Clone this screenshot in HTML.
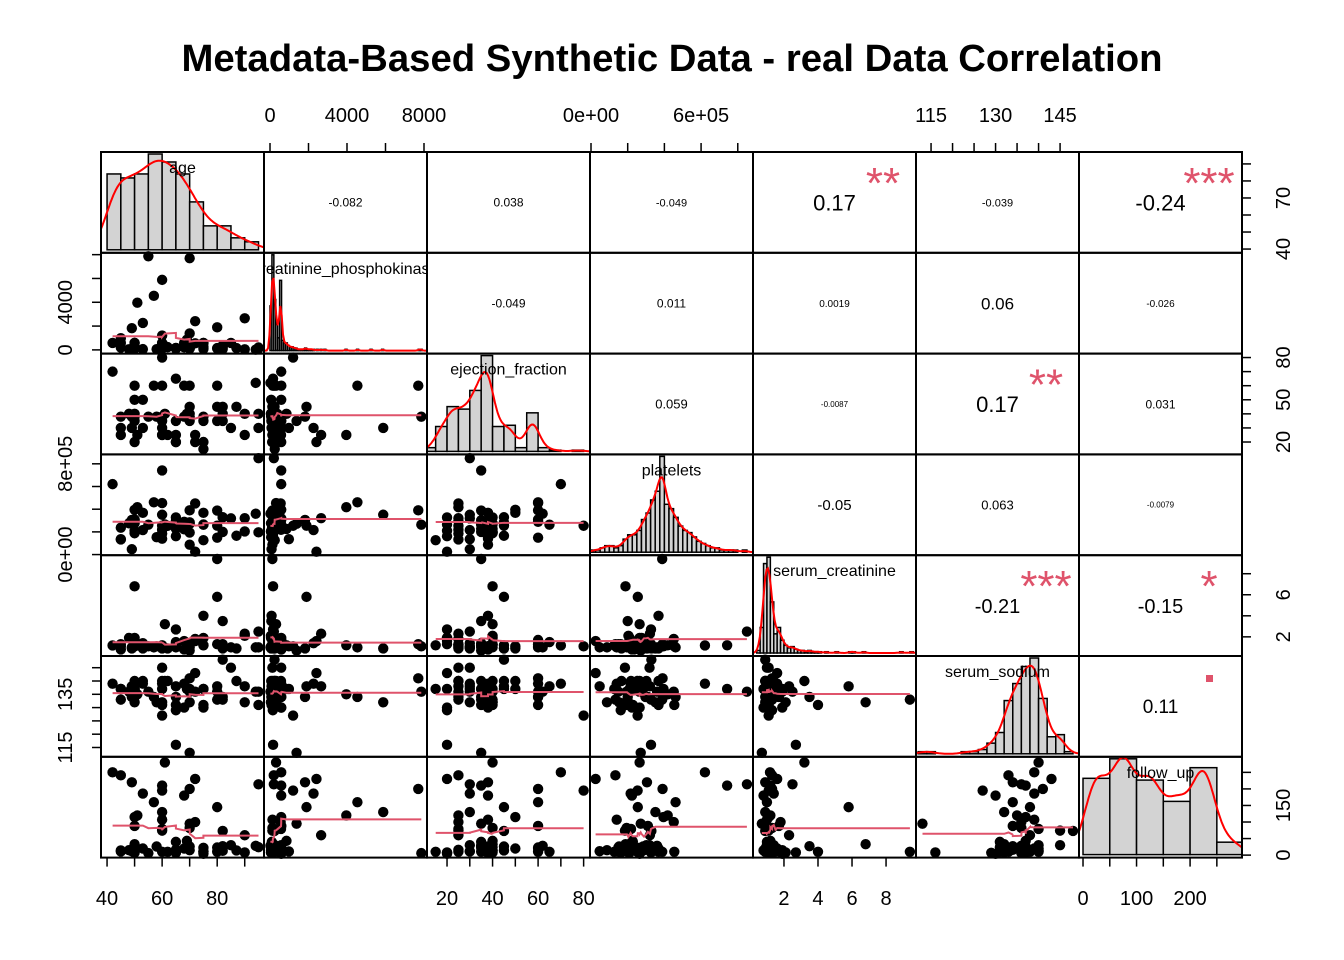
<!DOCTYPE html>
<html><head><meta charset="utf-8"><style>
html,body{margin:0;padding:0;background:#fff}
svg{display:block;font-family:"Liberation Sans",Arial,sans-serif}
</style></head><body>
<svg id="chart" width="1344" height="960" viewBox="0 0 1344 960">
<text x="672" y="71" text-anchor="middle" font-size="38.3" font-weight="bold">Metadata-Based Synthetic Data - real Data Correlation</text>
</svg>
<script>
const varNames=["age","creatinine_phosphokinase","ejection_fraction","platelets","serum_creatinine","serum_sodium","follow_up"];
const age=[75,55,65,50,65,90,75,60,65,80,75,62,45,50,49,82,87,45,70,48,65,68,53,75,80,95,70,58,82,94,85,50,50,65,69,90,82,60,60,70,50,70,72,60,50,51,60,80,57,68,53,60,70,60,95,49,72,45,42,61];
const cpk=[582,7861,146,111,160,47,246,315,157,123,81,231,981,168,80,379,149,582,125,52,128,220,63,582,148,112,122,60,70,23,582,249,159,94,855,2656,235,124,571,127,588,1380,553,129,582,3964,5882,1896,4540,582,2261,1199,7702,582,200,1820,2413,196,582,315];
const ef=[20,38,20,20,20,40,15,60,65,35,38,25,30,38,30,40,45,38,38,40,25,60,50,35,60,40,45,38,35,62,30,35,40,35,40,25,45,25,25,40,60,35,25,38,50,25,30,45,60,38,30,80,60,35,30,38,20,25,70,40];
const platelets=[265000,263358,162000,210000,327000,204000,127000,454000,263358,388000,368000,253000,136000,276000,47000,327000,166000,237000,87000,276000,297000,289000,368000,263358,149000,196000,284000,153000,200000,360000,319000,302000,188000,228000,226000,321000,329000,185000,218000,194000,310000,271000,451000,140000,395000,418000,351000,255000,461000,223000,216000,254000,390000,742000,850000,305000,25100,133000,621000,265000];
const sc=[1.9,1.1,1.3,1.9,2.7,2.1,1.2,1.1,1.5,9.4,4,0.9,1.1,1.1,1,1.3,0.9,0.8,1,1.9,1.3,1.6,0.9,1.2,1.3,1,1.2,1.1,3.5,1,1,1.4,6.8,1,1.2,2.3,0.9,1.1,1,1.3,1.7,0.7,1.8,1,1.1,1.2,0.9,5.8,1,0.8,1.4,1.1,1.3,1.2,2.5,0.9,1.6,1.3,1.18,3.2];
const sodium=[130,136,129,137,116,132,137,131,138,133,131,140,137,137,138,133,140,137,132,136,134,139,140,137,136,131,137,132,134,136,145,140,132,131,137,138,148,145,140,136,134,113,136,139,137,135,132,138,134,130,139,127,141,137,136,134,143,133,139,140];
const followUp=[4,6,7,7,8,8,10,10,10,10,10,10,11,11,12,13,14,14,15,15,16,20,20,22,23,24,26,26,27,28,30,30,33,40,43,60,73,74,79,82,88,95,100,107,115,120,130,145,160,180,186,195,200,210,214,220,230,241,250,280];
const ageHist=[19,18,19,24,22,19,12,6,6,3,2];
const cpkHist=[35,75,40,22,10,55,8,6,6,4,3,3,2,2,1,1,1,1,2,1,1,1,1,0,1,0,1,0,1,0,0,0,0,0,0,0,0,0,0,1,0,0,0,0,0,1,0,0,0,0,0,0,1,0,0,0,0,0,1,0,0,0,0,0,0,0,0,0,0,0,0,0,0,0,0,0,0,1,1,0];
const efHist=[3,20,36,34,49,77,20,21,3,31,3,1,0,1];
const plateletsHist=[1,1,2,3,3,2,3,6,8,8,10,15,18,24,28,44,22,20,16,12,10,9,7,5,4,3,2,2,1,1,1,1,0,1,0];
const scHist=[2,20,70,75,40,15,20,10,6,4,5,3,2,2,1,2,1,1,1,0,1,0,0,1,0,0,0,1,1,0,0,1,0,0,0,0,0,0,0,0,0,0,1,0,0,1];
const sodiumHist=[1,1,0,0,0,1,1,2,5,10,25,33,41,45,26,8,9,1];
const followUpHist=[43,54,42,30,49,7];
const corrLabels=[["","-0.082","0.038","-0.049","0.17","-0.039","-0.24"],["","","-0.049","0.011","0.0019","0.06","-0.026"],["","","","0.059","-0.0087","0.17","0.031"],["","","","","-0.05","0.063","-0.0079"],["","","","","","-0.21","-0.15"],["","","","","","","0.11"]];
const corrStars=[["","","","","**","","***"],["","","","","","",""],["","","","","","**",""],["","","","","","",""],["","","","","","***","*"],["","","","","","","."]];
const corrSizes=[[0,12,12,11,22,11,22],[0,0,12,12,10,17,10],[0,0,0,13,8,22,12],[0,0,0,0,15,13,8],[0,0,0,0,0,20,20],[0,0,0,0,0,0,19]];
const ticks=[[40,50,60,70,80,90],[0,2000,4000,6000,8000],[20,30,40,50,60,70,80],[0,200000,400000,600000,800000],[2,4,6,8],[115,120,125,130,135,140,145],[0,50,100,150,200,250]];
const hLabels=[["40","60","80"],["0","4000","8000"],["20","40","60","80"],["0e+00","6e+05"],["2","4","6","8"],["115","130","145"],["0","100","200"]];
const hLabelVals=[[40,60,80],[0,4000,8000],[20,40,60,80],[0,600000],[2,4,6,8],[115,130,145],[0,100,200]];
const vLabels=[["40","70"],["0","4000"],["20","50","80"],["0e+00","8e+05"],["2","6"],["115","135"],["0","150"]];
const vLabelVals=[[40,70],[0,4000],[20,50,80],[0,800000],[2,6],[115,135],[0,150]];

const data=[age,cpk,ef,platelets,sc,sodium,followUp];
const hists=[ageHist,cpkHist,efHist,plateletsHist,scHist,sodiumHist,followUpHist];
const histStart=[40,0,10,0,0.4,112,0], histWidth=[5,100,5,25000,0.2,2,50], bw=[4,70,3,20000,0.15,1.4,22];
const dom=[[37.8,97],[-312,8156],[11.2,82.8],[-5500,883000],[0.18,9.76],[111.5,149.4],[-7.5,297]];
const X0=101,PW=163,Y0=152,PH=100.8,N=7;
const svg=document.getElementById('chart');
const NS="http://www.w3.org/2000/svg";
function mk(tag,attrs,parent){const e=document.createElementNS(NS,tag);for(const k in attrs)e.setAttribute(k,attrs[k]);(parent||svg).appendChild(e);return e;}
function sx(v,j){return X0+j*PW+(v-dom[j][0])/(dom[j][1]-dom[j][0])*PW;}
function sy(v,i){return Y0+(i+1)*PH-(v-dom[i][0])/(dom[i][1]-dom[i][0])*PH;}
const RED="#DF536B";
const defs=mk('defs',{});

for(let i=0;i<N;i++)for(let j=0;j<N;j++){
  const g=mk('g',{});
  const left=X0+j*PW,top=Y0+i*PH;
  if(i>j){
    
    
    const xs=data[j],ys=data[i];
    for(let k=0;k<xs.length;k++){
      const c=mk('circle',{cx:sx(xs[k],j),cy:sy(ys[k],i),r:5.2,fill:'#000'},g);
      
      
    }
    const idx=xs.map((v,k)=>k).sort((a,b)=>xs[a]-xs[b]);
    const win=30;let pts=[];
    for(let m=0;m<idx.length;m+=2){
      const lo=Math.max(0,Math.min(idx.length-win,m-win/2)),hi=lo+win;let s=0,c=0;
      for(let q=lo;q<hi;q++){s+=ys[idx[q]];c++;}
      pts.push(sx(xs[idx[m]],j).toFixed(1)+','+sy(s/c,i).toFixed(1));
    }
    pts.push(sx(xs[idx[idx.length-1]],j).toFixed(1)+','+pts[pts.length-1].split(',')[1]);
    const l=mk('polyline',{points:pts.join(' '),fill:'none',stroke:RED,'stroke-width':2},g);
    
    
  } else if(i===j){
    
    
    const cp=mk('clipPath',{id:'clip'+i},defs);
    mk('rect',{x:left,y:top,width:PW,height:PH},cp);
    g.setAttribute('clip-path','url(#clip'+i+')');
    const h=hists[i],mx=Math.max(...h),bot=top+PH-3,scale=(PH-5)/mx;
    h.forEach((c,k)=>{
      if(c<=0)return;
      const a=sx(histStart[i]+k*histWidth[i],j),b=sx(histStart[i]+(k+1)*histWidth[i],j);
      const r=mk('rect',{x:a,y:bot-c*scale,width:b-a,height:c*scale,fill:'#D3D3D3',stroke:'#000','stroke-width':1.5},g);
      
      
    });
    const dp=[];const dens=[];
    for(let p=0;p<=120;p++){
      const v=dom[i][0]+(dom[i][1]-dom[i][0])*p/120;let d=0;
      h.forEach((c,k)=>{const ctr=histStart[i]+(k+0.5)*histWidth[i];const z=(v-ctr)/bw[i];d+=c*Math.exp(-0.5*z*z);});
      d*=histWidth[i]/(bw[i]*Math.sqrt(2*Math.PI));dens.push([v,d]);
    }
    dens.forEach(([v,d])=>dp.push(sx(v,j).toFixed(1)+','+(bot-Math.min(d*scale,PH-3)).toFixed(1)));
    const l=mk('polyline',{points:dp.join(' '),fill:'none',stroke:'#FF0000','stroke-width':2},g);
    
    
    const t=mk('text',{x:left+PW/2,y:top+21,'text-anchor':'middle','font-size':16},g);
    t.textContent=varNames[i];
    
    
  } else {
    
    
    const fs=corrSizes[i][j];
    const t=mk('text',{x:left+PW/2,y:top+PH/2+fs*0.36,'text-anchor':'middle','font-size':fs},g);
    t.textContent=corrLabels[i][j];
    
    
    const st=corrStars[i][j];
    if(st==="."){
      const r=mk('rect',{x:left+PW-36,y:top+19,width:7,height:7,fill:RED},g);
      
      
    } else if(st){
      const s=mk('text',{x:left+PW-33,y:top+46,'text-anchor':'middle','font-size':44,fill:RED},g);
      s.textContent=st;
      
      
    }
  }
  const b=mk('rect',{x:left,y:top,width:PW,height:PH,fill:'none',stroke:'#000','stroke-width':2});
  
  
}

for(let k=0;k<N;k++){
  const ax=mk('g',{});
  const topSide=(k%2===1);
  
  
  ticks[k].forEach(v=>{const x=sx(v,k);
    if(topSide)mk('line',{x1:x,x2:x,y1:Y0,y2:Y0-9,stroke:'#000','stroke-width':1.5},ax);
    else mk('line',{x1:x,x2:x,y1:Y0+N*PH,y2:Y0+N*PH+9,stroke:'#000','stroke-width':1.5},ax);});
  hLabels[k].forEach((s,q)=>{const t=mk('text',{x:sx(hLabelVals[k][q],k),y:topSide?122:905,'text-anchor':'middle','font-size':20},ax);t.textContent=s;
    
    });
  const vx=mk('g',{});
  const leftSide=(k%2===1);
  
  
  ticks[k].forEach(v=>{const y=sy(v,k);if(y<Y0+k*PH-0.5)return;
    if(leftSide)mk('line',{x1:X0,x2:X0-9,y1:y,y2:y,stroke:'#000','stroke-width':1.5},vx);
    else mk('line',{x1:X0+N*PW,x2:X0+N*PW+9,y1:y,y2:y,stroke:'#000','stroke-width':1.5},vx);});
  vLabels[k].forEach((s,q)=>{const y=sy(vLabelVals[k][q],k);const x=leftSide?72:1290;
    const t=mk('text',{x:x,y:y,'text-anchor':'middle','font-size':20,transform:'rotate(-90 '+x+' '+y+')'},vx);t.textContent=s;
    
    });
}
</script>
</body></html>
